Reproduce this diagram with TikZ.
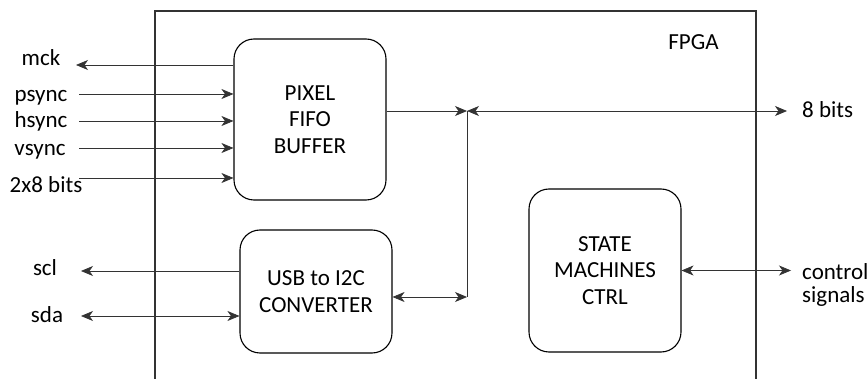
\documentclass[tikz,border=0pt]{standalone}
\usepackage{fontspec}
\setmainfont{Carlito}
\usetikzlibrary{positioning, arrows.meta}

\begin{document}
\begin{tikzpicture}[x=1pt, y=-1pt,
  blk/.style={draw, line width=1.1pt, rounded corners=20pt, align=center,
    minimum width=152pt, inner sep=0pt, font=\fontsize{23}{26.5}\selectfont},
  wire/.style={draw=black!80, line width=0.7pt},
  tip/.style={-{Stealth[length=12pt,width=10pt,inset=3.5pt]}},
  tips/.style={{Stealth[length=12pt,width=10pt,inset=3.5pt]}-{Stealth[length=12pt,width=10pt,inset=3.5pt]}},
  lbl/.style={anchor=base, inner sep=0pt, font=\fontsize{23}{26}\selectfont}]

% Frame
\useasboundingbox (0,0) rectangle (868,379);
\draw[line width=1.1pt, black!80] (155,379) -- (155,11) -- (756,11) -- (756,379);
\node[lbl] (fpga) at (693.5,50) {FPGA};

% Blocks
\node[blk, minimum height=161pt] (pix) at (310,119.5) {PIXEL\\FIFO\\BUFFER};
\node[blk, minimum height=123pt] (usb) at (316,291.5) {USB to I2C\\CONVERTER};
\node[blk, minimum height=163pt] (fsm) at (605,270.5) {STATE\\MACHINES\\CTRL};

% Data bus
\coordinate (busT) at (467,111);
\coordinate (busB) at (467,297);
\coordinate (out8) at (787,111);
\draw[wire] (busT) -- (busB);
\draw[wire, tip] (pix.east |- busT) -- (busT);
\draw[wire, tips] (busT) -- (out8);
\draw[wire, tips] (usb.east |- busB) -- (busB);
\node[lbl, anchor=base west] (bits8) at (802,118) {8 bits};

% Camera side
\coordinate (mckend) at (76,65);
\draw[wire, tip] (pix.west |- mckend) -- (mckend);
\node[lbl] (mck) at (41,66) {mck};
\foreach \i/\s/\x/\y/\b in {1/psync/41/94/102, 2/hsync/41/121/128, 3/vsync/40/148/156, 4/2x8 bits/46/178/193}{
  \coordinate (src\i) at (79,\y);
  \draw[wire, tip] (src\i) -- (pix.west |- src\i);
  \node[lbl] (in\i) at (\x,\b) {\s};
}

% I2C side
\coordinate (sclend) at (81,271);
\coordinate (sdaend) at (81,316);
\draw[wire, tip] (usb.west |- sclend) -- (sclend);
\draw[wire, tips] (sdaend) -- (usb.west |- sdaend);
\node[lbl] (scl) at (45,276) {scl};
\node[lbl] (sda) at (47,323) {sda};

% Control
\coordinate (ctrlend) at (791,270.5);
\draw[wire, tips] (fsm.east) -- (ctrlend);
\node[lbl, anchor=base west] (ctrl) at (802,280) {control};
\node[lbl, anchor=base west] (sigs) at (802,303) {signals};
\end{tikzpicture}
\end{document}
